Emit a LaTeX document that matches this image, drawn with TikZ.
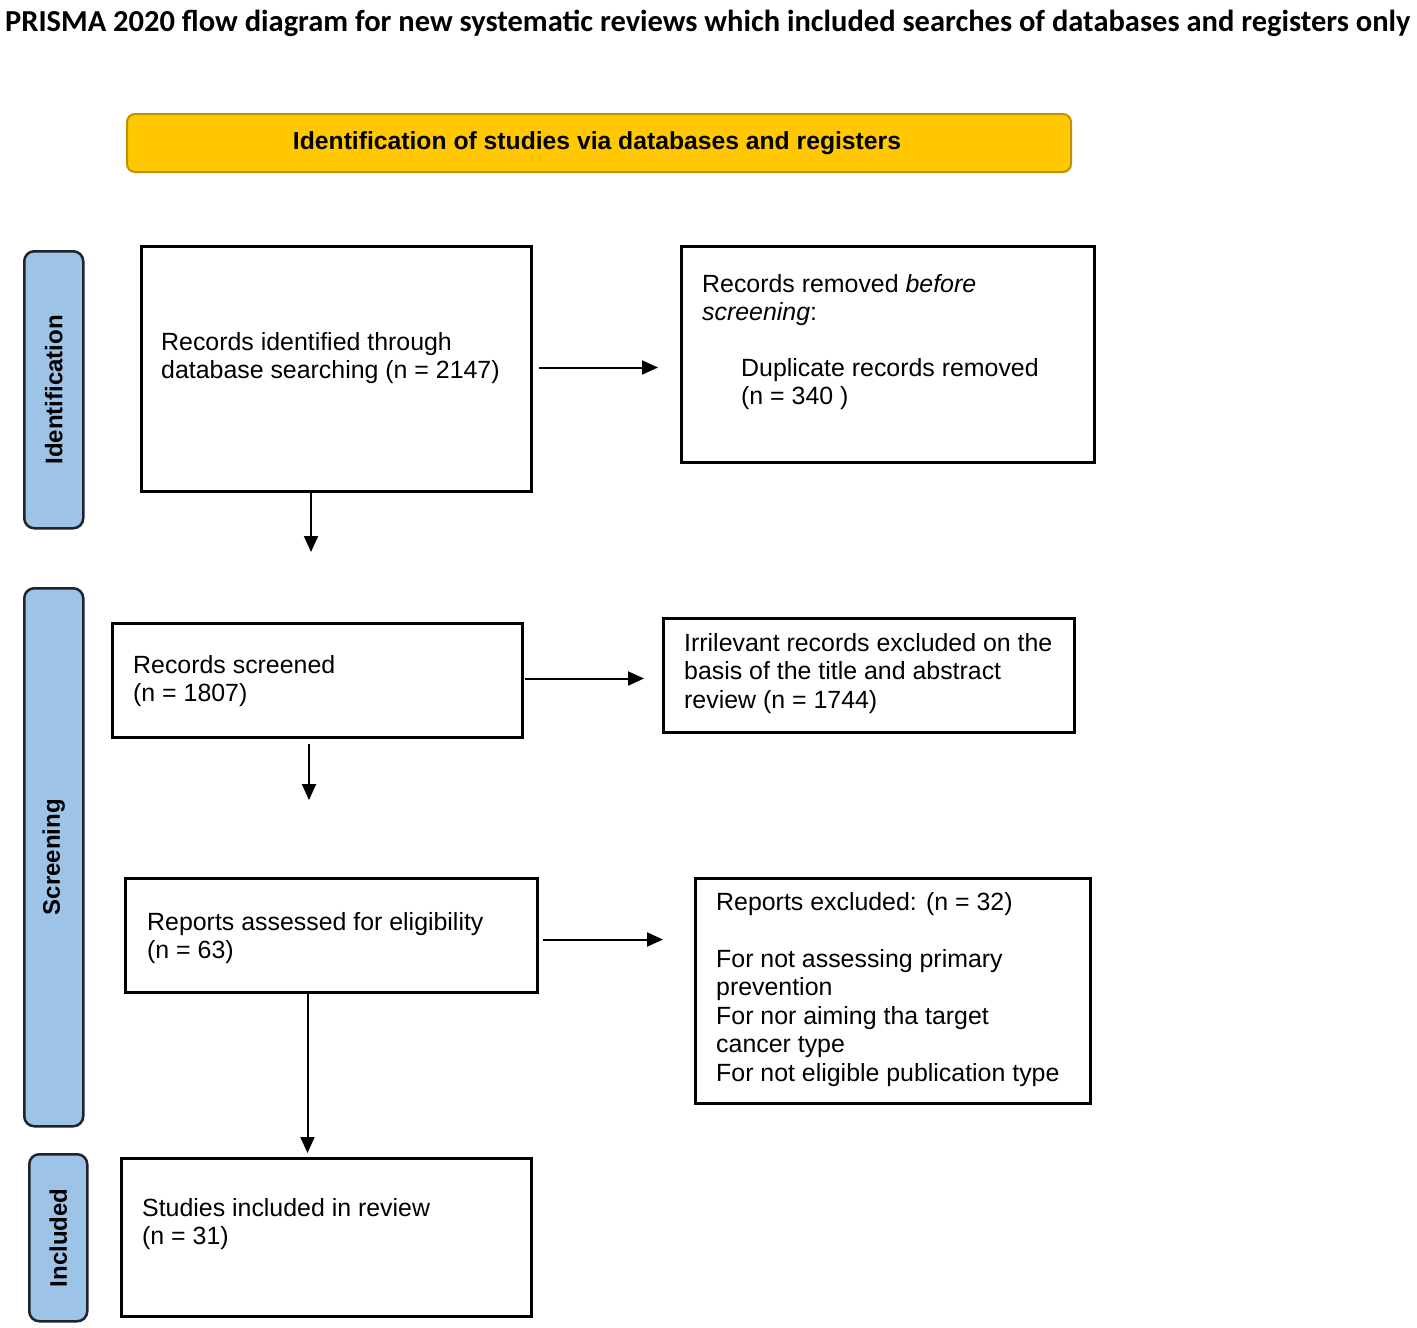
\documentclass[tikz,border=0pt]{standalone}
\usepackage{fontspec}
\setmainfont{Liberation Sans}
\newfontfamily\titlefont{Carlito}
\usetikzlibrary{arrows.meta}
\definecolor{banfill}{RGB}{255,200,0}
\definecolor{banedge}{RGB}{190,145,0}
\definecolor{sidefill}{RGB}{157,195,230}
\definecolor{sideedge}{RGB}{30,35,45}
\tikzset{
  box/.style={draw=black, line width=3pt, inner sep=0pt, anchor=north west},
  side/.style={draw=sideedge, fill=sidefill, line width=2.5pt, rounded corners=10pt, inner sep=0pt, anchor=north west},
  sidetext/.style={rotate=90, font=\fontsize{24}{28}\selectfont\bfseries, inner sep=0pt},
  txt/.style={anchor=base west, inner sep=0pt, font=\fontsize{24.9}{28.5}\selectfont},
  arr/.style={draw=black, line width=2pt, -{Triangle[length=16pt,width=14pt]}},
}
\newcommand{\lines}[1]{\begin{tabular}[t]{@{}l@{}}#1\end{tabular}}
\begin{document}
\begin{tikzpicture}[x=1pt,y=-1pt]
\useasboundingbox (0,0) rectangle (1417,1328);
% title
\node[anchor=base west, inner sep=0pt, font=\titlefont\bfseries\fontsize{30.5}{34}\selectfont] (title) at (5,31)
  {PRISMA 2020 flow diagram for new systematic reviews which included searches of databases and registers only};
% banner
\node[draw=banedge, fill=banfill, line width=2pt, rounded corners=8pt, anchor=north west,
      minimum width=944pt, minimum height=58pt, inner sep=0pt] (banner) at (126,113) {};
\node[font=\fontsize{24.7}{28}\selectfont\bfseries, inner sep=0pt] (bantext) at (597,143) {Identification of studies via databases and registers};
% side labels
\node[side, minimum width=59pt, minimum height=277pt] (sid) at (23,250) {};
\node[sidetext] (sidt) at (sid.center) {Identification};
\node[side, minimum width=59pt, minimum height=538pt] (sscr) at (23,587) {};
\node[sidetext] (sscrt) at (sscr.center) {Screening};
\node[side, minimum width=58pt, minimum height=167pt] (sinc) at (28,1153) {};
\node[sidetext] (sinct) at (sinc.center) {Included};
% boxes
\node[box, minimum width=390pt, minimum height=245pt] (b1) at (140,245) {};
\node[box, minimum width=413pt, minimum height=216pt] (b2) at (680,245) {};
\node[box, minimum width=410pt, minimum height=114pt] (b3) at (111,622) {};
\node[box, minimum width=411pt, minimum height=114pt] (b4) at (662,617) {};
\node[box, minimum width=412pt, minimum height=114pt] (b5) at (124,877) {};
\node[box, minimum width=395pt, minimum height=225pt] (b6) at (694,877) {};
\node[box, minimum width=410pt, minimum height=158pt] (b7) at (120,1157) {};
% texts
\node[txt] (t1) at (161,350) {\lines{Records identified through\\database searching (n = 2147)}};
\node[txt] (t2a) at (702,292) {\lines{Records removed \textit{before}\\\textit{screening}:}};
\node[txt] (t2b) at (741,376) {\lines{Duplicate records removed\\(n = 340 )}};
\node[txt] (t3) at (133,673) {\lines{Records screened\\(n = 1807)}};
\node[txt] (t4) at (684,651) {\lines{Irrilevant records excluded on the\\basis of the title and abstract\\review (n = 1744)}};
\node[txt] (t5) at (147,930) {\lines{Reports assessed for eligibility\\(n = 63)}};
\node[txt] (t6) at (716,910) {\lines{Reports excluded: (n = 32)\\ \\For not assessing primary\\prevention\\For nor aiming tha target\\cancer type\\For not eligible publication type}};
\node[txt] (t7) at (142,1216) {\lines{Studies included in review\\(n = 31)}};
% free arrow ends
\coordinate (c1) at (311,552);
\coordinate (c2) at (309,800);
% arrows
\draw[arr, shorten <=6pt, shorten >=22pt] ([yshift=1.5pt]b1.east) -- ([yshift=1.5pt]b1.east -| b2.west);
\draw[arr] (c1 |- b1.south) -- (c1);
\draw[arr, shorten <=1pt, shorten >=18pt] ([yshift=2pt]b3.east) -- ([yshift=2pt]b3.east -| b4.west);
\draw[arr, shorten <=5pt] (c2 |- b3.south) -- (c2);
\draw[arr, shorten <=4pt, shorten >=31pt] ([yshift=-4pt]b5.east) -- ([yshift=-4pt]b5.east -| b6.west);
\draw[arr, shorten >=4pt] ([xshift=-24pt]b5.south) -- ([xshift=-24pt]b5.south |- b7.north);
\end{tikzpicture}
\end{document}
